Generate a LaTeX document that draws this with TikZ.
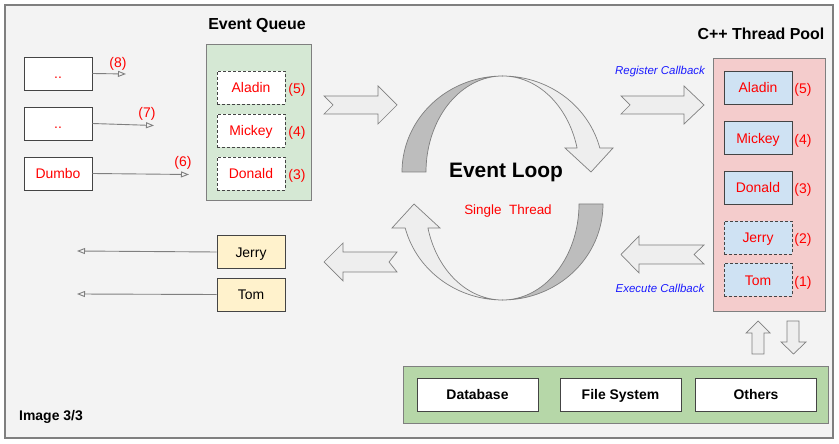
\documentclass[tikz,border=0pt]{standalone}
\usepackage{fontspec}
\setmainfont{Liberation Sans}
\usetikzlibrary{arrows.meta}
\definecolor{bgc}{HTML}{F3F3F3}
\definecolor{framec}{HTML}{7F7F7F}
\definecolor{boxline}{HTML}{444444}
\definecolor{eqfill}{HTML}{D5E8D4}
\definecolor{tpfill}{HTML}{F4CCCC}
\definecolor{bluefill}{HTML}{CFE2F3}
\definecolor{yelfill}{HTML}{FFF2CC}
\definecolor{botfill}{HTML}{B6D7A8}
\definecolor{lightarr}{HTML}{EEEEEE}
\definecolor{darkarr}{HTML}{BDBDBD}
\definecolor{redtxt}{HTML}{FF0000}
\definecolor{bluetxt}{HTML}{1A1AFF}
\newcommand\lblfont{\fontsize{14}{16}\selectfont}
\newcommand\ttlfont{\fontsize{16}{18}\selectfont\bfseries}
\newcommand\cbfont{\fontsize{11.5}{13}\selectfont\itshape}
\begin{document}
\begin{tikzpicture}[x=1bp,y=-1bp,
  fixtext/.style={text height=12bp, text depth=1.5bp},
  box/.style={draw=boxline, line width=0.8bp, minimum width=68bp, minimum height=33bp, inner sep=0pt, font=\lblfont, fixtext},
  redbox/.style={box, fill=white, text=redtxt},
  qbox/.style={box, fill=white, text=redtxt, dashed, dash pattern=on 3bp off 2bp},
  tbox/.style={box, fill=bluefill, text=redtxt},
  tdbox/.style={tbox, dashed, dash pattern=on 3bp off 2bp},
  ybox/.style={box, fill=yelfill, text=black},
  wbox/.style={draw=boxline, line width=0.8bp, fill=white, minimum width=121bp, minimum height=33bp, inner sep=0pt, font=\lblfont\bfseries, fixtext},
  cont/.style={draw=framec, line width=0.8bp, inner sep=0pt},
  num/.style={text=redtxt, font=\lblfont, inner sep=0pt, fixtext},
  conn/.style={draw=framec, line width=0.9bp, -{Triangle[open, length=8bp, width=6bp]}},
  blockarr/.style={draw=framec, line width=0.7bp, fill=lightarr},
  loopl/.style={draw=framec, line width=0.7bp, fill=lightarr},
  loopd/.style={draw=framec, line width=0.7bp, fill=darkarr},
  cb/.style={text=bluetxt, font=\cbfont, inner sep=0pt}
]
\useasboundingbox (0,0) rectangle (839,444);
\draw[draw=framec, line width=1.5bp, fill=bgc] (5,5) rectangle (833,438);

% left producer boxes
\node[redbox] (b1) at (58,73.5) {..};
\node[redbox] (b2) at (58,123.5) {..};
\node[redbox] (b3) at (58,173.5) {Dumbo};
\coordinate (e8) at (126,74);
\coordinate (e7) at (154,125.5);
\coordinate (e6) at (189,174.5);
\draw[conn] (b1.east) -- (e8);
\draw[conn] (b2.east) -- (e7);
\draw[conn] (b3.east) -- (e6);
\node[num] at (118,62) {(8)};
\node[num] at (147,112) {(7)};
\node[num] at (183,161) {(6)};

% event queue
\node[font=\ttlfont, inner sep=0pt] (eqt) at (257,26) {Event Queue};
\node[cont, fill=eqfill, minimum width=105bp, minimum height=156bp] (eq) at (258.5,122) {};
\node[qbox] (q1) at (251,87.5) {Aladin};
\node[qbox] (q2) at (251,130.5) {Mickey};
\node[qbox] (q3) at (251,173.5) {Donald};
\node[num] at (297,88.5) {(5)};
\node[num] at (297,131.5) {(4)};
\node[num] at (297,174.5) {(3)};

% jerry tom outputs
\node[ybox] (j) at (251,252) {Jerry};
\node[ybox] (t) at (251,294.5) {Tom};
\coordinate (ej) at (77,251);
\coordinate (et) at (77,294);
\draw[conn] (j.west) -- (ej);
\draw[conn] (t.west) -- (et);

% block arrows
\draw[blockarr] (324,96) -- (378,96) -- (378,86) -- (397,105) -- (378,124) -- (378,114) -- (324,114) -- (333,105) -- cycle;
\draw[blockarr] (621,96) -- (684,96) -- (684,86) -- (704,105) -- (684,124) -- (684,114) -- (621,114) -- (630,105) -- cycle;
\draw[blockarr] (324,262) -- (343,243) -- (343,252) -- (397,252) -- (389,262) -- (397,272) -- (343,272) -- (343,281) -- cycle;
\draw[blockarr] (621,254.5) -- (639,236) -- (639,245) -- (704,245) -- (694,254.5) -- (704,264) -- (639,264) -- (639,273) -- cycle;
\draw[blockarr] (758,321) -- (770,333) -- (764,333) -- (764,354) -- (752,354) -- (752,333) -- (746,333) -- cycle;
\draw[blockarr] (793.5,354) -- (806,342) -- (799,342) -- (799,321) -- (787,321) -- (787,342) -- (781,342) -- cycle;
\node[cb] at (660,72) {Register Callback};
\node[cb] at (660,288) {Execute Callback};

% event loop
\foreach \rot in {0,180}{
\begin{scope}[rotate around={\rot:(502.5,188)}]
\path[loopl] plot[domain=270:345.5, samples=40] ({502.5+100.5*cos(\x)},{172+96*sin(\x)})
  -- (613,148) -- (591,172) -- (565,148)
  -- plot[domain=345.5:270, samples=40] ({502.5+77*cos(\x)},{172+96*sin(\x)}) -- cycle;
\path[loopd] plot[domain=180:270, samples=40] ({502.5+100.5*cos(\x)},{172+96*sin(\x)})
  -- plot[domain=270:180, samples=40] ({502.5+76.5*cos(\x)},{172+96*sin(\x)}) -- cycle;
\end{scope}
}
\node[font=\fontsize{21}{24}\selectfont\bfseries, inner sep=0pt] (el) at (506,172.5) {Event Loop};
\node[text=redtxt, font=\fontsize{13.5}{15}\selectfont, inner sep=0pt] (st) at (508,211) {Single\ \ Thread};

% thread pool
\node[font=\ttlfont, inner sep=0pt] (tpt) at (761,34) {C++ Thread Pool};
\node[cont, fill=tpfill, minimum width=112bp, minimum height=253bp] (tp) at (769,185) {};
\node[tbox] (p1) at (758,87.5) {Aladin};
\node[tbox] (p2) at (758,138) {Mickey};
\node[tbox] (p3) at (758,187.5) {Donald};
\node[tdbox] (p4) at (758,237.5) {Jerry};
\node[tdbox] (p5) at (758,280) {Tom};
\node[num] at (803,88.5) {(5)};
\node[num] at (803,139) {(4)};
\node[num] at (803,188.5) {(3)};
\node[num] at (803,238.5) {(2)};
\node[num] at (803,281.5) {(1)};

% bottom resources
\node[cont, fill=botfill, minimum width=425bp, minimum height=57bp] (bot) at (615.5,394.5) {};
\node[wbox] (db) at (477.5,394.5) {Database};
\node[wbox] (fs) at (620.5,394.5) {File System};
\node[wbox] (ot) at (756,394.5) {Others};

\node[font=\fontsize{14}{16}\selectfont\bfseries, inner sep=0pt, anchor=west] (img) at (19,417) {Image 3/3};
\end{tikzpicture}
\end{document}
